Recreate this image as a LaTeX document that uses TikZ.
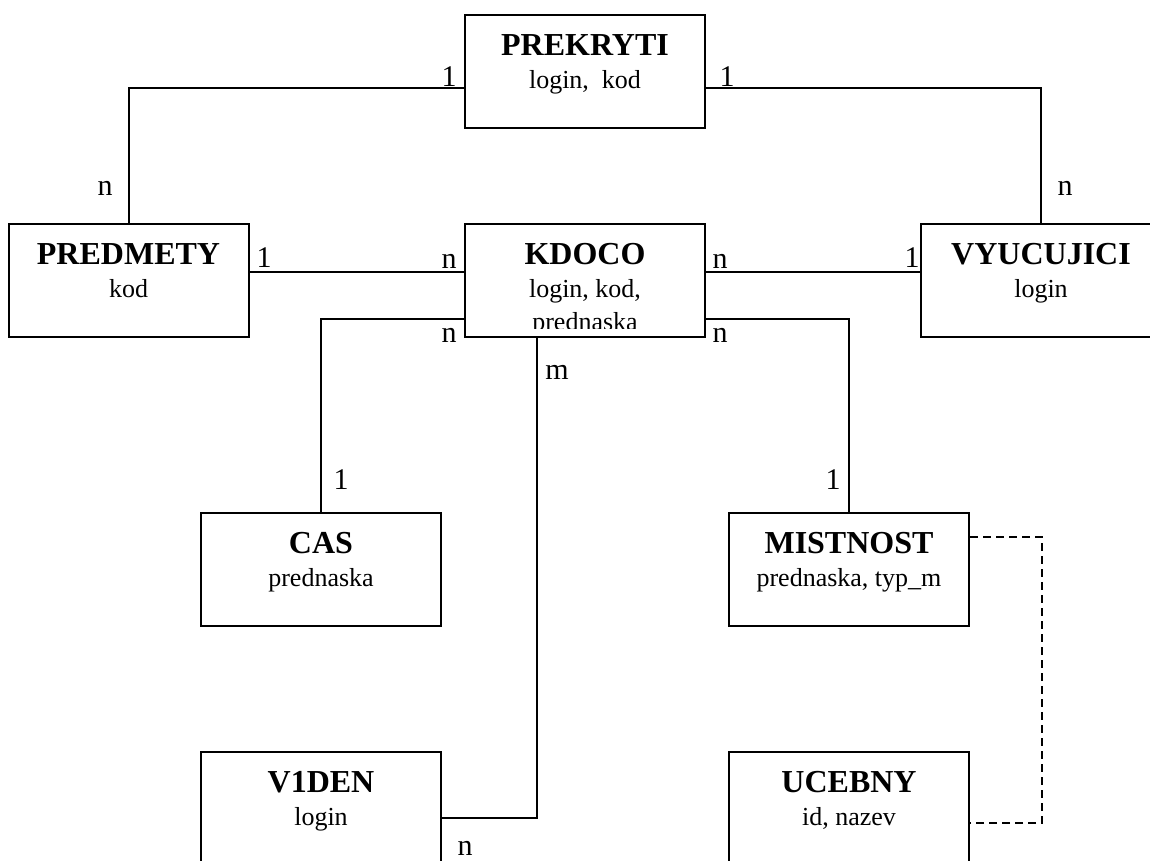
\documentclass[tikz,border=0pt]{standalone}
\usepackage{fontspec}
\setmainfont{Liberation Serif}
\tikzset{
  entity/.style={draw,line width=2pt,minimum width=240pt,minimum height=113pt,inner sep=0pt},
  enttext/.style={anchor=north,align=center,inner sep=0pt,font=\fontsize{26}{33}\selectfont},
  card/.style={inner sep=0pt,font=\fontsize{30}{30}\selectfont},
  link/.style={line width=2pt},
  weak/.style={line width=1.8pt,dash pattern=on 8pt off 5pt}
}
\newcommand{\ename}[1]{{\fontsize{32}{33}\selectfont\bfseries #1}}
\begin{document}
\begin{tikzpicture}[x=1pt,y=-1pt]
    \clip (0,0) rectangle (1150,861);
    % entities
    \node [entity] (prekryti) at (585,71.5) {};
    \node [entity] (predmety) at (128.5,280.5) {};
    \node [entity] (kdoco) at (585,280.5) {};
    \node [entity] (vyucujici) at (1041,280.5) {};
    \node [entity] (cas) at (321,569.5) {};
    \node [entity] (mistnost) at (849,569.5) {};
    \node [entity] (v1den) at (321,808.5) {};
    \node [entity] (ucebny) at (849,808.5) {};
    \node [enttext] (prekrytit) at ([yshift=-20pt]prekryti.north) {\ename{PREKRYTI}\\login,\ \ kod};
    \node [enttext] (predmetyt) at ([yshift=-20pt]predmety.north) {\ename{PREDMETY}\\kod};
    \begin{scope}
      \clip (kdoco.north west) rectangle ([yshift=10pt]kdoco.south east);
      \node [enttext] (kdocot) at ([yshift=-20pt]kdoco.north) {\ename{KDOCO}\\login, kod,\\prednaska};
    \end{scope}
    \node [enttext] (vyucujicit) at ([yshift=-20pt]vyucujici.north) {\ename{VYUCUJICI}\\login};
    \node [enttext] (cast) at ([yshift=-20pt]cas.north) {\ename{CAS}\\prednaska};
    \node [enttext] (mistnostt) at ([yshift=-20pt]mistnost.north) {\ename{MISTNOST}\\prednaska, typ\_m};
    \node [enttext] (v1dent) at ([yshift=-20pt]v1den.north) {\ename{V1DEN}\\login};
    \node [enttext] (ucebnyt) at ([yshift=-20pt]ucebny.north) {\ename{UCEBNY}\\id, nazev};
    % relations
    \draw [link] ([yshift=-16.5pt]prekryti.west) -| (predmety.north);
    \draw [link] ([yshift=-16.5pt]prekryti.east) -| (vyucujici.north);
    \draw [link] ([yshift=8.5pt]predmety.east) -- ([yshift=8.5pt]kdoco.west);
    \draw [link] ([yshift=8.5pt]kdoco.east) -- ([yshift=8.5pt]vyucujici.west);
    \draw [link] ([yshift=-38.5pt]kdoco.west) -| (cas.north);
    \draw [link] ([yshift=-38.5pt]kdoco.east) -| (mistnost.north);
    \draw [link] ([xshift=-48pt]kdoco.south) |- ([yshift=-9.5pt]v1den.east);
    \draw [weak] ([yshift=32.5pt]mistnost.east) -- ++(72,0) |- ([yshift=-14.5pt]ucebny.east);
    % cardinalities
    \node [card] (c1) at (449,77) {1};
    \node [card] (c2) at (727,77) {1};
    \node [card] (c3) at (105,188) {n};
    \node [card] (c4) at (1065,188) {n};
    \node [card] (c5) at (264,258) {1};
    \node [card] (c6) at (449,261) {n};
    \node [card] (c7) at (720,261) {n};
    \node [card] (c8) at (912,258) {1};
    \node [card] (c9) at (449,335) {n};
    \node [card] (c10) at (720,335) {n};
    \node [card] (c11) at (557,372) {m};
    \node [card] (c12) at (341,480) {1};
    \node [card] (c13) at (833,480) {1};
    \node [card] (c14) at (465,848) {n};
\end{tikzpicture}
\end{document}
